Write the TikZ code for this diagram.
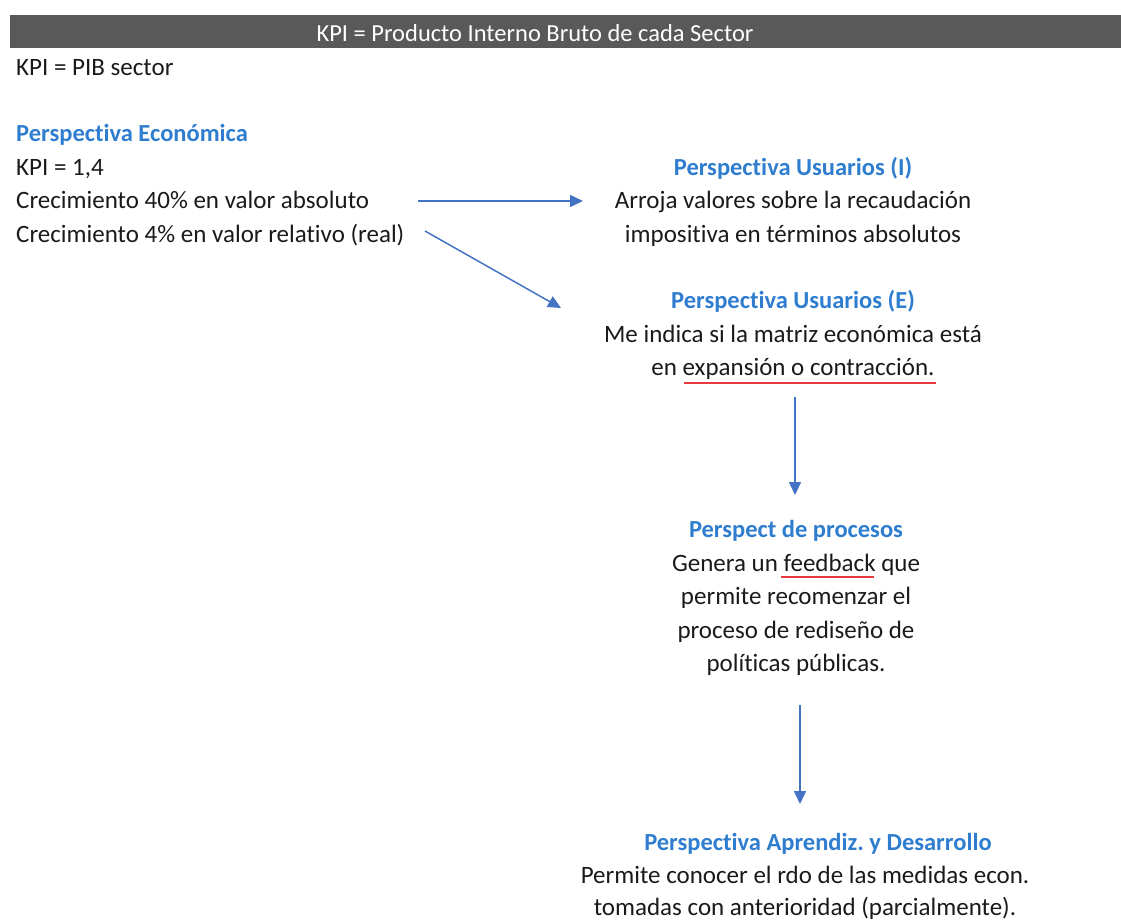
\documentclass[tikz,border=0pt]{standalone}
\usepackage{fontspec}
\setmainfont{Carlito}[RawFeature=-liga]
\usetikzlibrary{arrows.meta}
\definecolor{hdr}{HTML}{595959}
\definecolor{ttl}{HTML}{2E7DCF}
\definecolor{arr}{HTML}{4472C4}
\definecolor{txt}{HTML}{1A1A1A}
\definecolor{ul}{HTML}{E8393F}
\tikzset{
  x=1pt,y=-1pt,
  every node/.style={inner sep=0pt,font=\fontsize{25}{30}\selectfont,text=txt},
  ln/.style={anchor=base west},
  cl/.style={anchor=base},
  ttlt/.style={font=\fontsize{24.5}{30}\selectfont\bfseries,text=ttl},
  conn/.style={draw=arr,line width=1.5pt,-{Triangle[length=13pt,width=12pt]}},
  redul/.style={draw=ul,line width=1.3pt}
}
\frenchspacing
\begin{document}
\begin{tikzpicture}
\frenchspacing
\useasboundingbox (0,0) rectangle (1121,922);
\fill[hdr] (10,15) rectangle (1121,48);
\node[cl,text=white,font=\fontsize{24.5}{28}\selectfont] (hdrt) at (535,41) {KPI = Producto Interno Bruto de cada Sector};
\node[ln] (kpi) at (16,75) {KPI = PIB sector};
% economic
\node[ln,ttlt] (eco) at (16,141) {Perspectiva Económica};
\node[ln] (eco1) at (16,175) {KPI = 1,4};
\node[ln] (eco2) at (16,208) {Crecimiento 40\% en valor absoluto};
\node[ln] (eco3) at (16,242) {Crecimiento 4\% en valor relativo (real)};
% usuarios I
\node[cl,ttlt] (ui) at (793,175) {Perspectiva Usuarios (I)};
\node[cl] (ui1) at (793,208) {Arroja valores sobre la recaudación};
\node[cl] (ui2) at (793,242) {impositiva en términos absolutos};
% usuarios E
\node[cl,ttlt] (ue) at (793,308) {Perspectiva Usuarios (E)};
\node[cl] (ue1) at (793,342) {Me indica si la matriz económica está};
\node[cl] (ue2) at (793,375) {en expansión o contracción.};
% procesos
\node[cl,ttlt] (pp) at (796,537) {Perspect de procesos};
\node[cl] (pp1) at (796,571) {Genera un feedback que};
\node[cl] (pp2) at (796,604) {permite recomenzar el};
\node[cl] (pp3) at (796,638) {proceso de rediseño de};
\node[cl] (pp4) at (796,671) {políticas públicas.};
% aprendizaje
\node[cl,ttlt] (ap) at (818,850) {Perspectiva Aprendiz. y Desarrollo};
\node[cl] (ap1) at (805,883) {Permite conocer el rdo de las medidas econ.};
\node[cl] (ap2) at (805,915) {tomadas con anterioridad (parcialmente).};
% underlines
\coordinate (u1a) at (684,383); \coordinate (u1b) at (936,383);
\draw[redul] (u1a) -- (u1b);
\coordinate (u2a) at (781,577); \coordinate (u2b) at (874,577);
\draw[redul] (u2a) -- (u2b);
% connectors
\coordinate (a1s) at (418,201); \coordinate (a1e) at (583,201);
\draw[conn] (a1s) -- (a1e);
\coordinate (a2s) at (425,231); \coordinate (a2e) at (561,308);
\draw[conn] (a2s) -- (a2e);
\coordinate (a3s) at (795,397); \coordinate (a3e) at (795,495);
\draw[conn] (a3s) -- (a3e);
\coordinate (a4s) at (800,705); \coordinate (a4e) at (800,804);
\draw[conn] (a4s) -- (a4e);
\end{tikzpicture}
\end{document}
